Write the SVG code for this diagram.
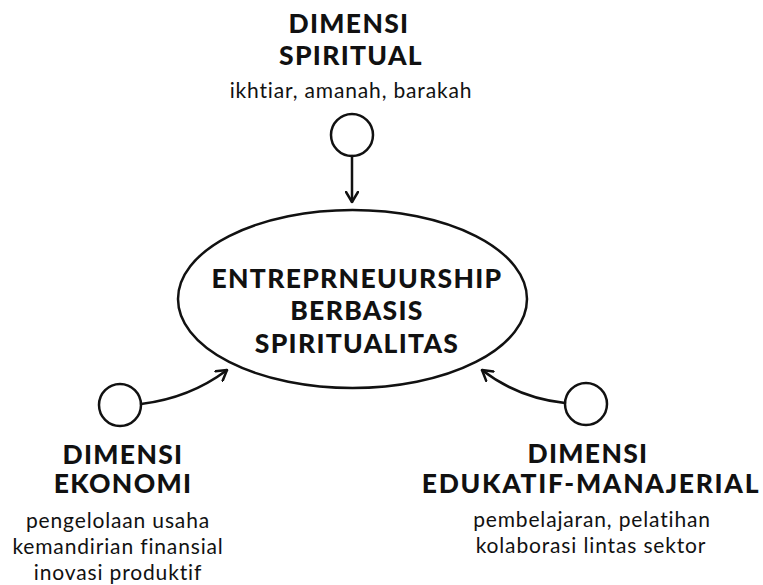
<svg xmlns="http://www.w3.org/2000/svg" width="763" height="585" viewBox="0 0 763 585">
<style>
text{font-variant-ligatures:none;font-feature-settings:"liga" 0}
.h{font-family:Lato,"Open Sans",sans-serif;font-weight:900;font-size:26.5px;letter-spacing:1.3px;fill:#111;text-anchor:middle}
.s{font-family:Lato,"Open Sans",sans-serif;font-weight:400;font-size:21px;letter-spacing:0.85px;fill:#111;text-anchor:middle}
.ln{fill:none;stroke:#111;stroke-width:2.5;stroke-linecap:round}
</style>
<defs>
<marker id="ah" viewBox="0 0 12 14" refX="11" refY="7" markerWidth="12" markerHeight="14" markerUnits="userSpaceOnUse" orient="auto">
<path d="M1,1 L11,7 L1,13" fill="none" stroke="#111" stroke-width="2.5" stroke-linecap="round" stroke-linejoin="round"/>
</marker>
</defs>
<rect width="763" height="585" fill="#fff"/>
<g id="center">
<ellipse cx="352.5" cy="299" rx="174.5" ry="89" class="ln"/>
<text class="h" x="357" y="288">ENTREPRNEUURSHIP</text>
<text class="h" x="357" y="320">BERBASIS</text>
<text class="h" x="357" y="353">SPIRITUALITAS</text>
</g>
<g id="spiritual">
<circle cx="352" cy="135" r="21" class="ln"/>
<text class="h" x="349" y="33">DIMENSI</text>
<text class="h" x="351" y="65">SPIRITUAL</text>
<text class="s" x="351" y="98">ikhtiar, amanah, barakah</text>
</g>
<g id="ekonomi">
<circle cx="120" cy="405" r="21" class="ln"/>
<text class="h" x="123" y="464">DIMENSI</text>
<text class="h" x="123" y="493">EKONOMI</text>
<text class="s" x="118" y="528">pengelolaan usaha</text>
<text class="s" x="118" y="554">kemandirian finansial</text>
<text class="s" x="118" y="580">inovasi produktif</text>
</g>
<g id="edukatif">
<circle cx="586" cy="404" r="21" class="ln"/>
<text class="h" x="588" y="463">DIMENSI</text>
<text class="h" x="591" y="493" style="letter-spacing:1.7px">EDUKATIF-MANAJERIAL</text>
<text class="s" x="592" y="527">pembelajaran, pelatihan</text>
<text class="s" x="591" y="553">kolaborasi lintas sektor</text>
</g>
<g id="connectors">
<path class="ln" d="M352,156 L352,202" marker-end="url(#ah)"/>
<path class="ln" d="M141,404 Q190,398 227,370" marker-end="url(#ah)"/>
<path class="ln" d="M565,403 Q518,398 482,370" marker-end="url(#ah)"/>
</g>
</svg>
